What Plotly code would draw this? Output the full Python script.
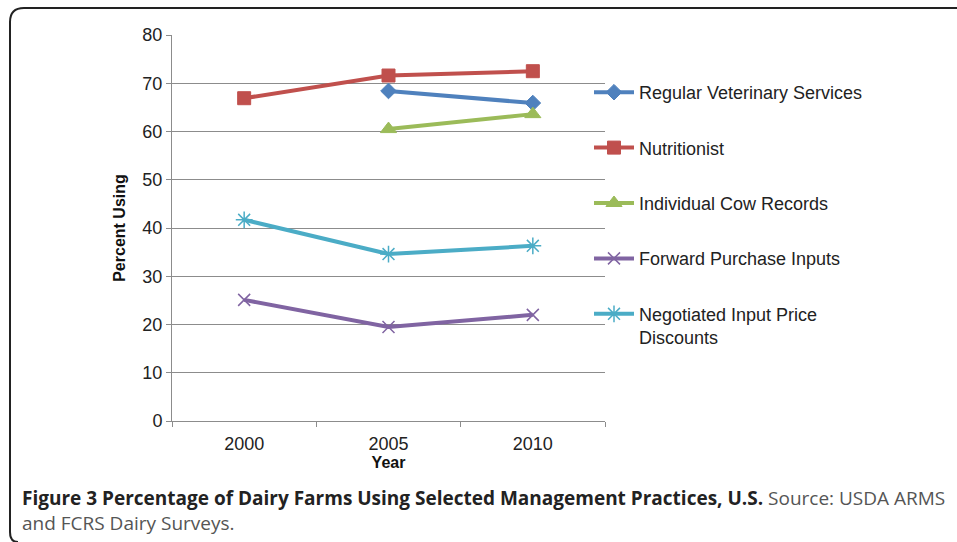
import plotly.graph_objects as go

years = ["2000", "2005", "2010"]
vet = [None, 68.4, 65.9]
nutritionist = [66.9, 71.6, 72.5]
cow_records = [None, 60.5, 63.6]
forward = [25.1, 19.5, 22.0]
negotiated = [41.7, 34.6, 36.3]

W, H = 957, 542
ML, MR, MT, MB = 172, 352, 35, 121
PW = W - ML - MR
PH = H - MT - MB

def px_x(p):
    return (p - ML) / PW

def px_y(p):
    return 1 - (p - MT) / PH

series = [
    ("Regular Veterinary Services", vet, "#4F81BD", "diamond", 12, 1),
    ("Nutritionist", nutritionist, "#C0504D", "square", 13, 1),
    ("Individual Cow Records", cow_records, "#9BBB59", "triangle-up", 14, 1),
    ("Forward Purchase Inputs", forward, "#8064A2", "x-thin-open", 12, 1.5),
    ("Negotiated Input Price<br>Discounts", negotiated, "#4BACC6", "asterisk-open", 14, 1.5),
]

fig = go.Figure()
for i, (name, vals, col, sym, sz, lw) in enumerate(series):
    fig.add_trace(go.Scatter(
        x=years, y=vals, name=name, mode="lines+markers",
        line=dict(color=col, width=4),
        marker=dict(symbol=sym, size=sz, color=col, line=dict(color=col, width=lw)),
        legendgroup=f"g{i}", connectgaps=False,
    ))

font_main = "Liberation Sans, Arial, sans-serif"
fig.update_layout(
    width=W, height=H,
    margin=dict(l=ML, r=MR, t=MT, b=MB),
    paper_bgcolor="white", plot_bgcolor="white",
    font=dict(family=font_main, size=18, color="#222222"),
    showlegend=True,
    legend=dict(x=px_x(589), y=px_y(74), xanchor="left", yanchor="top",
                font=dict(size=18, color="#222222"), tracegroupgap=29,
                bgcolor="rgba(0,0,0,0)", itemwidth=40, valign="top"),
    xaxis=dict(type="category", range=[-0.5, 2.5], showgrid=False,
               showline=True, linecolor="#8c8c8c", linewidth=1,
               ticks="outside", tickson="boundaries", ticklen=5, tickcolor="#8c8c8c",
               tickfont=dict(size=18, color="#222222"), ticklabelstandoff=6,
               title=dict(text="<b>Year</b>", font=dict(size=16, color="#111111"), standoff=4)),
    yaxis=dict(range=[0, 80], dtick=10, showgrid=True, gridcolor="#8c8c8c", gridwidth=1,
               showline=True, linecolor="#8c8c8c", linewidth=1, zeroline=False,
               ticks="outside", ticklen=5, tickcolor="#8c8c8c",
               tickfont=dict(size=18, color="#222222"),
               title=dict(text="<b>Percent Using</b>", font=dict(size=16, color="#111111"), standoff=12)),
)

# frame
x0, x1 = px_x(10), px_x(960)
yt, yb = px_y(8), px_y(542)
fig.add_shape(type="path", xref="paper", yref="paper",
              path=f"M {x1} {yt} L {px_x(24)} {yt} Q {x0} {yt} {x0} {px_y(22)} L {x0} {px_y(532)} Q {x0} {yb} {px_x(18)} {yb}",
              line=dict(color="#222222", width=2))

fig.add_annotation(
    xref="paper", yref="paper", x=px_x(20), y=px_y(483), xanchor="left", yanchor="top",
    align="left", showarrow=False,
    text="<b>Figure 3 Percentage of Dairy Farms Using Selected Management Practices, U.S.</b>"
         "<span style='color:#555555'> Source: USDA ARMS</span><br>"
         "<span style='color:#555555'>and FCRS Dairy Surveys.</span>",
    font=dict(family="Open Sans, sans-serif", size=19, color="#222222"),
)

fig.write_html("out.html", config={"displayModeBar": False},
               post_script="document.body.style.margin='0';")
